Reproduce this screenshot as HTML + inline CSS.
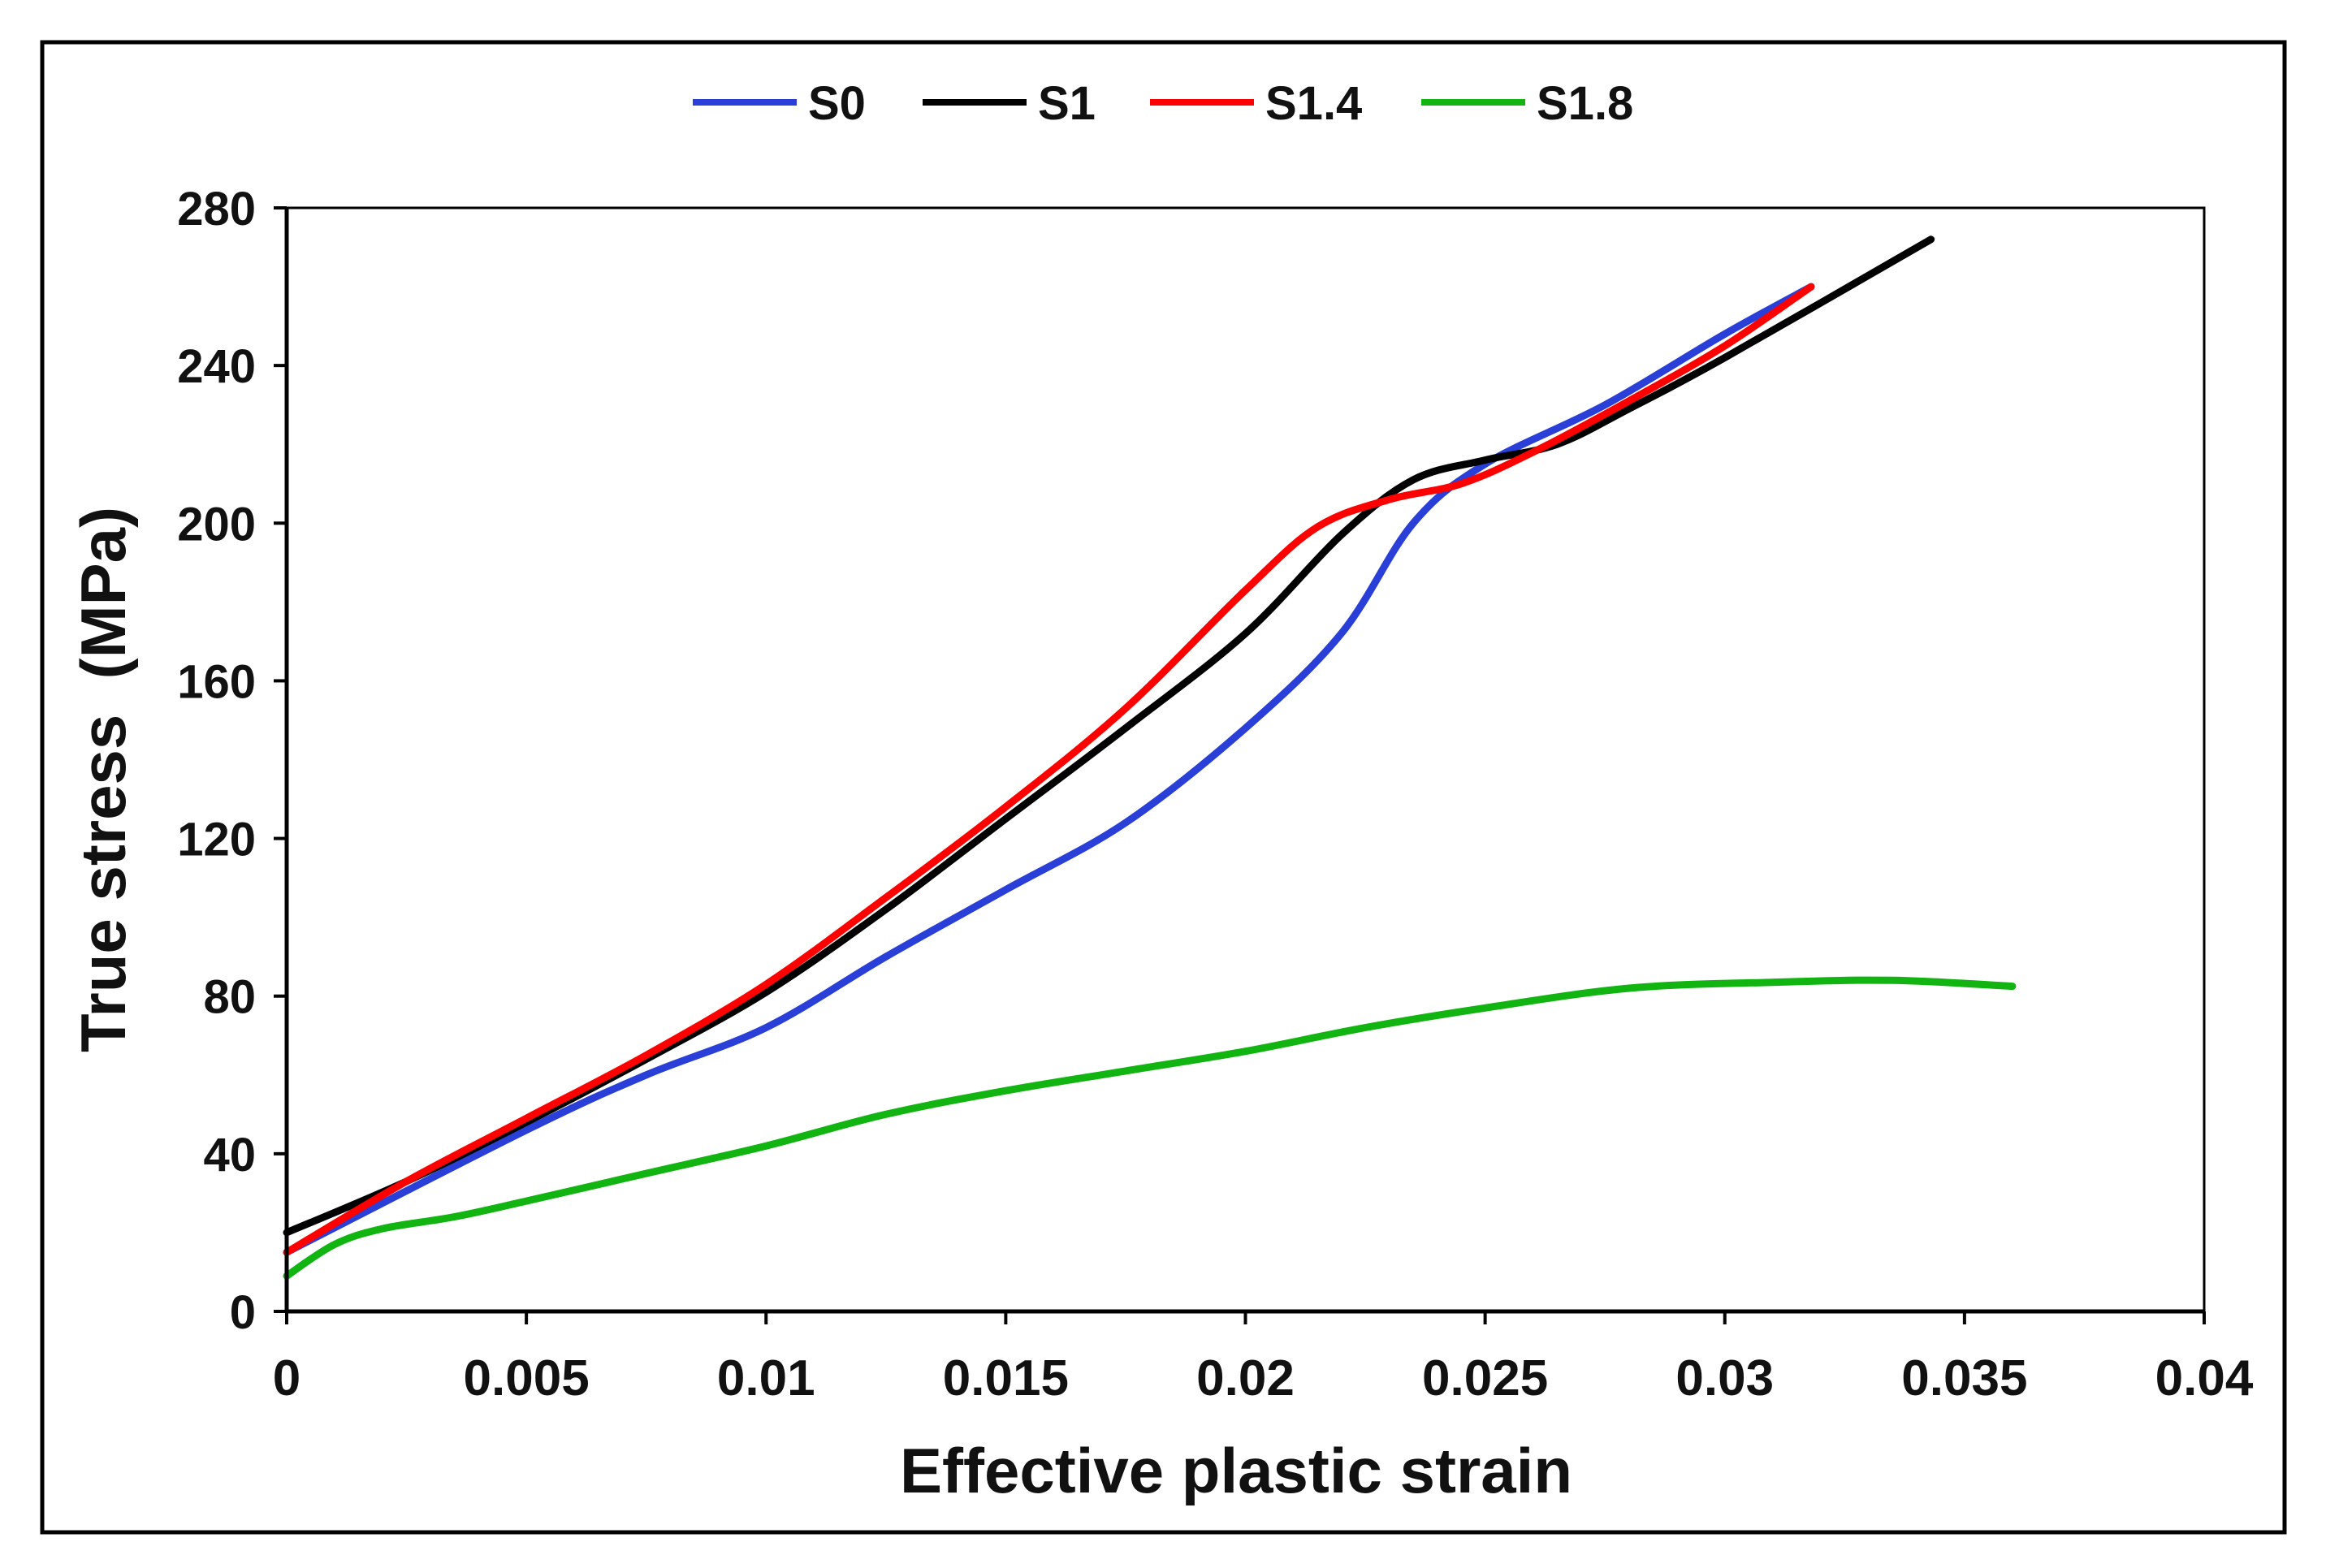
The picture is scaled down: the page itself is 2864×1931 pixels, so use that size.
<!DOCTYPE html>
<html><head><meta charset="utf-8"><style>
html,body{margin:0;padding:0;background:#fff;}
svg{display:block;}
text{font-family:"Liberation Sans Narrow","Liberation Sans",sans-serif;font-weight:bold;fill:#111;}
</style></head><body>
<svg id="chart" width="2864" height="1931" viewBox="0 0 2864 1931" xmlns="http://www.w3.org/2000/svg">
<rect x="52" y="52" width="2761" height="1835" fill="#fff" stroke="#000" stroke-width="5"/>
<rect x="353" y="256" width="2361" height="1359" fill="none" stroke="#000" stroke-width="3"/>
<g id="series"></g>
<g id="axes"></g>
<text x="1522" y="1838" font-size="78" text-anchor="middle" font-family="Liberation Sans, sans-serif">Effective plastic strain</text>
<text transform="translate(154,960) rotate(-90)" font-size="78" text-anchor="middle" font-family="Liberation Sans, sans-serif" xml:space="preserve">True stress  (MPa)</text>
<g id="legend"></g>
</svg>
<script>
const seriesNames=["S0","S1","S1.4","S1.8"];
const seriesColors=["#2a3fd8","#000000","#ff0000","#11b411"];
const xTicks=[0,0.005,0.01,0.015,0.02,0.025,0.03,0.035,0.04];
const xTickLabels=["0","0.005","0.01","0.015","0.02","0.025","0.03","0.035","0.04"];
const yTicks=[0,40,80,120,160,200,240,280];
const yTickLabels=["0","40","80","120","160","200","240","280"];
const s0X=[0,0.005,0.0075,0.01,0.0125,0.015,0.0175,0.02,0.022,0.0235,0.025,0.0275,0.03,0.0318];
const s0Y=[15,46,60,72,90,107,124,148,172,200,215,230,248,260];
const s1X=[0,0.0025,0.005,0.0075,0.01,0.0125,0.015,0.0175,0.02,0.022,0.0235,0.025,0.0265,0.028,0.03,0.0343];
const s1Y=[20,33,48,64,81,102,125,148,172,197,211,216,220,229,242,272];
const s14X=[0,0.0025,0.005,0.0075,0.01,0.0125,0.015,0.0175,0.02,0.0215,0.023,0.0245,0.026,0.028,0.03,0.0318];
const s14Y=[15,33,49,65,83,105,128,153,183,199,206,210,218,231,245,260];
const s18X=[0,0.001,0.002,0.0035,0.005,0.0075,0.01,0.0125,0.015,0.0175,0.02,0.0225,0.025,0.028,0.031,0.0335,0.036];
const s18Y=[9,17,21,24,28,35,42,50,56,61,66,72,77,82,83.5,84,82.5];

const NS="http://www.w3.org/2000/svg";
const L=353,R=2714,T=256,B=1615;
const xMin=0,xMax=0.04,yMin=0,yMax=280;
function sx(v){return L+(v-xMin)/(xMax-xMin)*(R-L);}
function sy(v){return B-(v-yMin)/(yMax-yMin)*(B-T);}
function mk(tag,attrs,parent){const e=document.createElementNS(NS,tag);for(const k in attrs)e.setAttribute(k,attrs[k]);parent.appendChild(e);return e;}
const axes=document.getElementById('axes');
const series=document.getElementById('series');
const legend=document.getElementById('legend');

let ax=mk('line',{x1:L,y1:B,x2:R,y2:B,stroke:'#000','stroke-width':5},axes);


let ay=mk('line',{x1:L,y1:T,x2:L,y2:B,stroke:'#000','stroke-width':5},axes);



xTicks.forEach((v,i)=>{
  const x=sx(v);
  const t=mk('line',{x1:x,y1:B,x2:x,y2:B+16,stroke:'#000','stroke-width':4},axes);
  
  
  const lb=mk('text',{x:x,y:B+103,'font-size':62,'text-anchor':'middle'},axes);
  lb.textContent=xTickLabels[i];
  
  
});
yTicks.forEach((v,i)=>{
  const y=sy(v);
  const t=mk('line',{x1:L-16,y1:y,x2:L,y2:y,stroke:'#000','stroke-width':4},axes);
  
  
  const lb=mk('text',{x:L-38,y:y+21,'font-size':58,'text-anchor':'end'},axes);
  lb.textContent=yTickLabels[i];
  
  
});

function smooth(px,py){
  let d='M'+px[0].toFixed(1)+','+py[0].toFixed(1);
  for(let i=0;i<px.length-1;i++){
    const x0=px[Math.max(0,i-1)],y0=py[Math.max(0,i-1)];
    const x1=px[i],y1=py[i],x2=px[i+1],y2=py[i+1];
    const x3=px[Math.min(px.length-1,i+2)],y3=py[Math.min(px.length-1,i+2)];
    const c1x=x1+(x2-x0)/6,c1y=y1+(y2-y0)/6,c2x=x2-(x3-x1)/6,c2y=y2-(y3-y1)/6;
    d+=' C'+c1x.toFixed(1)+','+c1y.toFixed(1)+' '+c2x.toFixed(1)+','+c2y.toFixed(1)+' '+x2.toFixed(1)+','+y2.toFixed(1);
  }
  return d;
}
const allX=[s0X,s1X,s14X,s18X],allY=[s0Y,s1Y,s14Y,s18Y];
const order=[3,0,1,2];
order.forEach(k=>{
  const p=mk('path',{d:smooth(allX[k].map(sx),allY[k].map(sy)),fill:'none',stroke:seriesColors[k],'stroke-width':9,'stroke-linecap':'round','stroke-linejoin':'round'},series);
  
  
});

const legX=[853,1136,1416,1750];
seriesNames.forEach((n,k)=>{
  const g=mk('g',{},legend);
  
  
  mk('line',{x1:legX[k],y1:126,x2:legX[k]+128,y2:126,stroke:seriesColors[k],'stroke-width':8},g);
  const t=mk('text',{x:legX[k]+142,y:147,'font-size':58},g);
  t.textContent=n;
});
</script>
</body></html>
